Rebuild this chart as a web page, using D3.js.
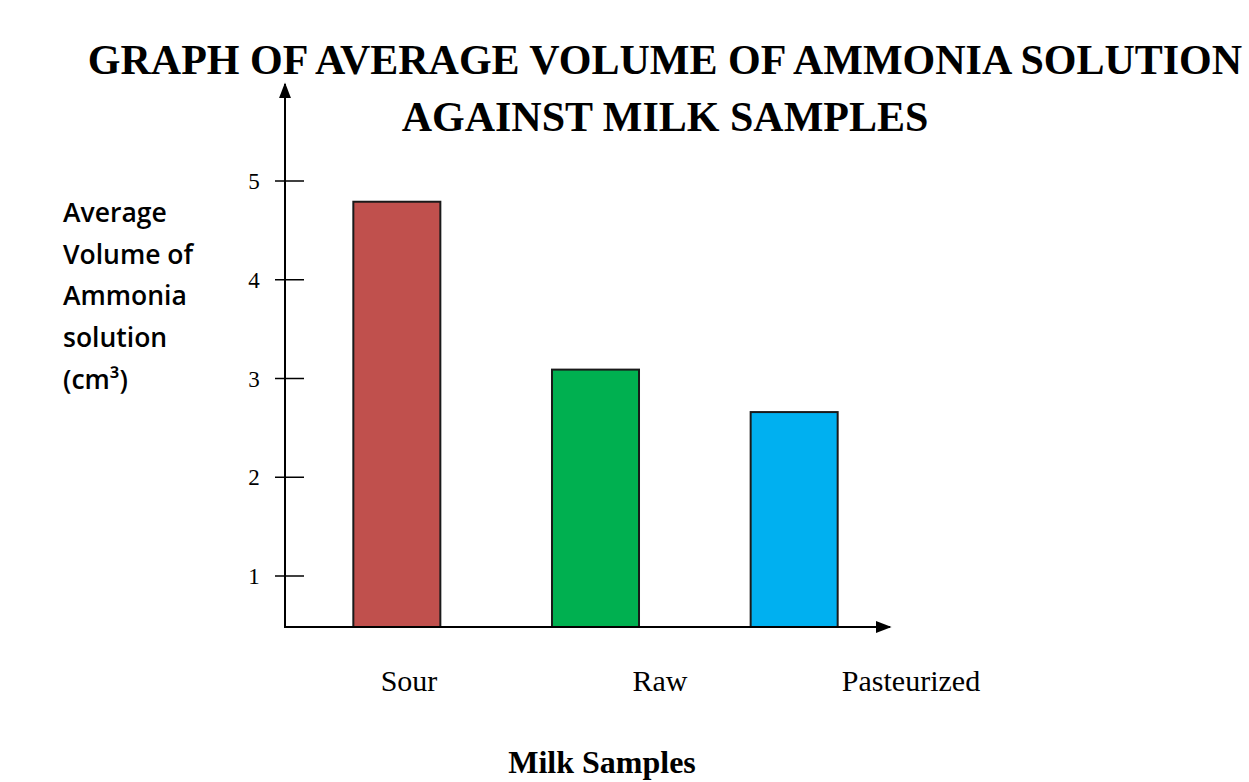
<!DOCTYPE html>
<html><head><meta charset="utf-8">
<script src="https://cdn.jsdelivr.net/npm/d3@7"></script>
<style>body{margin:0;background:#fff}svg{display:block}</style>
</head><body>
<script>
const categories = ["Sour", "Raw", "Pasteurized"];
const values = [4.79, 3.09, 2.66];
const colors = ["#C0504D", "#00B050", "#00B0F0"];
const yTicks = [1, 2, 3, 4, 5];
const titleLines = ["GRAPH OF AVERAGE VOLUME OF AMMONIA SOLUTION", "AGAINST MILK SAMPLES"];
const yLabelLines = ["Average", "Volume of", "Ammonia", "solution", "(cm³)"];
const xTitle = "Milk Samples";

const W = 1249, H = 782;
const svg = d3.select("body").append("svg").attr("width", W).attr("height", H);

const axisX = 285, baseY = 627;
const y = d3.scaleLinear().domain([1, 5]).range([576, 181]);
const yMin = y.invert(baseY);
const x = d3.scaleBand().domain(categories).range([254, 937]).paddingInner(0.562).paddingOuter(0.5);
const xl = d3.scalePoint().domain(categories).range([409, 911]);

// bars
svg.selectAll("rect.bar").data(categories).join("rect")
  .attr("class", "bar")
  .attr("x", d => x(d))
  .attr("width", x.bandwidth())
  .attr("y", (d, i) => y(values[i]))
  .attr("height", (d, i) => y(yMin) - y(values[i]))
  .attr("fill", (d, i) => colors[i])
  .attr("stroke", "#1a1a1a").attr("stroke-width", 2);

// axes
const defs = svg.append("defs");
defs.append("marker").attr("id", "arr").attr("viewBox", "0 0 10 10").attr("refX", 9).attr("refY", 5)
  .attr("markerWidth", 8).attr("markerHeight", 8).attr("markerUnits", "strokeWidth").attr("orient", "auto")
  .append("path").attr("d", "M0,1.2 L10,5 L0,8.8 Z").attr("fill", "#000");

svg.append("line").attr("x1", axisX).attr("y1", baseY).attr("x2", axisX).attr("y2", 84)
  .attr("stroke", "#000").attr("stroke-width", 2).attr("marker-end", "url(#arr)");
svg.append("line").attr("x1", axisX - 1).attr("y1", baseY).attr("x2", 890).attr("y2", baseY)
  .attr("stroke", "#000").attr("stroke-width", 2).attr("marker-end", "url(#arr)");

// ticks
const tg = svg.append("g");
tg.selectAll("line").data(yTicks).join("line")
  .attr("x1", axisX - 10).attr("x2", axisX + 19)
  .attr("y1", d => y(d)).attr("y2", d => y(d))
  .attr("stroke", "#000").attr("stroke-width", 1.5);
tg.selectAll("text").data(yTicks).join("text")
  .attr("x", 254).attr("y", d => y(d) + 8)
  .attr("text-anchor", "middle")
  .attr("font-family", "Liberation Serif, serif").attr("font-size", 23)
  .text(d => d);

// x labels
svg.selectAll("text.xl").data(categories).join("text")
  .attr("class", "xl")
  .attr("x", d => xl(d)).attr("y", 691)
  .attr("text-anchor", "middle")
  .attr("font-family", "Liberation Serif, serif").attr("font-size", 30)
  .text(d => d);

// title
svg.selectAll("text.title").data(titleLines).join("text")
  .attr("class", "title")
  .attr("x", 665).attr("y", (d, i) => 74 + i * 57)
  .attr("text-anchor", "middle")
  .attr("font-family", "Liberation Serif, serif").attr("font-weight", "bold").attr("font-size", 42)
  .text(d => d);

// y label
svg.selectAll("text.yl").data(yLabelLines).join("text")
  .attr("class", "yl")
  .attr("x", 63).attr("y", (d, i) => 222 + i * 41.7)
  .attr("font-family", "Open Sans, sans-serif").attr("font-weight", 600).attr("font-size", 26.5)
  .text(d => d);

// x title
svg.append("text").attr("x", 602).attr("y", 773).attr("text-anchor", "middle")
  .attr("font-family", "Liberation Serif, serif").attr("font-weight", "bold").attr("font-size", 32)
  .text(xTitle);
</script>
</body></html>
